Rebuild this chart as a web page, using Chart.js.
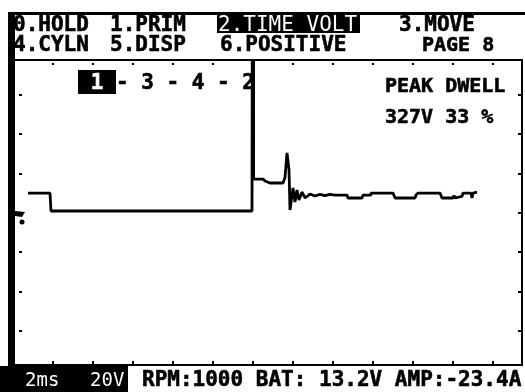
<!DOCTYPE html>
<html>
<head>
<meta charset="utf-8">
<script src="https://cdn.jsdelivr.net/npm/chart.js@4.4.0/dist/chart.umd.min.js"></script>
<style>
  html, body { margin: 0; padding: 0; background: #fff; }
  #scope {
    position: relative; width: 525px; height: 392px; overflow: hidden;
    background: #fff; color: #000;
    font-family: "DejaVu Sans Mono", monospace; font-weight: bold;
  }
  #scope canvas { position: absolute; left: 0; top: 0; }
  .bar { position: absolute; background: #000; }
  .t { position: absolute; white-space: pre; font-size: 21px; line-height: 1; -webkit-text-stroke: 0.6px #000; }
  .inv { background: #000; color: #fff; -webkit-text-stroke: 0.6px #fff; }
  .thin { font-weight: normal; -webkit-text-stroke: 0; }
</style>
</head>
<body>
<div id="scope">
  <!-- screen frame -->
  <div class="bar" style="left:8px;top:12px;width:517px;height:3px"></div>
  <div class="bar" style="left:8px;top:12px;width:7px;height:354px"></div>
  <div class="bar" style="left:15px;top:59px;width:508px;height:2px"></div>
  <div class="bar" style="left:521px;top:61px;width:2px;height:305px"></div>
  <div class="bar" style="left:15px;top:364px;width:508px;height:2px"></div>
  <div class="bar" style="left:0;top:366px;width:128px;height:26px"></div>

  <canvas id="scopeChart" width="525" height="392"></canvas>

  <!-- menu -->
  <div class="t" style="left:13px;top:14px">0.HOLD</div>
  <div class="t" style="left:110px;top:14px">1.PRIM</div>
  <div class="bar" style="left:217px;top:13px;width:143px;height:20px"></div>
  <div class="t thin" style="left:218px;top:14px;color:#fff">2.TIME VOLT</div>
  <div class="t" style="left:399px;top:14px">3.MOVE</div>
  <div class="t" style="left:13px;top:34px">4.CYLN</div>
  <div class="t" style="left:110px;top:34px">5.DISP</div>
  <div class="t" style="left:220px;top:34px">6.POSITIVE</div>
  <div class="t" style="left:422px;top:34px;font-size:20px">PAGE 8</div>

  <!-- firing order, peak / dwell readout -->
  <div class="t" style="left:78px;top:72px"><span class="inv"> 1 </span>- 3 - 4 - 2</div>
  <div class="t" style="left:385px;top:75px;font-size:20px">PEAK DWELL</div>
  <div class="t" style="left:385px;top:106px;font-size:20px">327V 33 %</div>

  <!-- status line -->
  <div class="t thin" style="left:25px;top:370px;font-size:19px;color:#fff">2ms</div>
  <div class="t thin" style="left:90px;top:370px;font-size:19px;color:#fff">20V</div>
  <div class="t" style="left:142px;top:369px">RPM:1000 BAT: 13.2V AMP:-23.4A</div>
</div>

<script>
// primary ignition trace, time in ms, volts (20 V/div, 2 ms/div)
const timeMs = [
  0.75, 1.85, 1.9, 11.95, 12.0, 12.03, 12.5, 12.6, 12.85, 13.5,
  13.6, 13.7, 13.8, 13.85, 14.0, 14.1, 14.2, 14.3, 14.45, 14.6,
  14.85, 15.1, 15.35, 15.6, 15.85, 16.1, 16.7, 16.75, 17.45, 17.5,
  17.85, 17.9, 19.0, 19.1, 20.1, 20.15, 20.25, 21.35, 21.45, 22.0,
  22.05, 22.1, 22.45, 22.5, 22.9, 22.95, 23.0, 23.2
];
const volts = [
  10.1, 10.1, 1.0, 1.0, 327, 17.2, 17.2, 16.2, 15.2, 15.2,
  18.0, 30.4, 22.0, 1.5, 12.7, 5.6, 11.6, 6.6, 10.6, 7.6,
  9.6, 8.6, 9.4, 8.8, 9.4, 9.1, 9.1, 7.6, 7.6, 9.1,
  9.1, 10.1, 10.1, 7.6, 7.6, 9.1, 10.1, 10.1, 7.6, 7.6,
  8.9, 7.6, 8.4, 10.1, 10.1, 7.6, 10.1, 10.6
];

// graticule marks along the screen edge
const timeDivs = [2, 4, 6, 8, 10, 12, 14, 16, 18, 20, 22, 24];
const voltDivs = [-60, -40, -20, 0, 20, 40, 60];

const points = timeMs.map((t, i) => ({ x: t, y: volts[i] }));

const scopeFrame = {
  id: "scopeFrame",
  afterDraw(chart) {
    const { ctx, chartArea: a, scales: { x, y } } = chart;
    ctx.save();
    ctx.fillStyle = "#000";
    timeDivs.forEach(t => {
      const px = Math.round(x.getPixelForValue(t));
      ctx.fillRect(px - 1, a.top + 2, 2, 2);
      ctx.fillRect(px - 1, a.bottom - 3, 2, 3);
    });
    voltDivs.forEach(v => {
      const py = Math.round(y.getPixelForValue(v));
      if (v !== 0) ctx.fillRect(a.left + 4, py - 1, 3, 2);
      ctx.fillRect(a.right - 3, py - 1, 3, 2);
    });
    // ground reference flag
    const g = y.getPixelForValue(0);
    ctx.beginPath();
    ctx.moveTo(a.left, g - 2);
    ctx.lineTo(a.left + 10, g - 1);
    ctx.lineTo(a.left + 7, g + 4);
    ctx.lineTo(a.left, g + 3);
    ctx.closePath();
    ctx.fill();
    ctx.beginPath();
    ctx.arc(a.left + 7, g + 9, 2.5, 0, Math.PI * 2);
    ctx.fill();
    ctx.restore();
  }
};

new Chart(document.getElementById("scopeChart"), {
  type: "line",
  data: {
    datasets: [{
      data: points,
      borderColor: "#000",
      borderWidth: 2.8,
      borderJoinStyle: "bevel",
      pointRadius: 0,
      tension: 0,
      fill: false,
    }],
  },
  options: {
    responsive: false,
    animation: false,
    layout: { padding: { left: 15, top: 61, right: 4, bottom: 28 } },
    plugins: { legend: { display: false }, tooltip: { enabled: false } },
    scales: {
      x: { type: "linear", min: 0.1, max: 25.4, display: false },
      y: { min: -76.5, max: 77, display: false },
    },
  },
  plugins: [scopeFrame],
});
</script>
</body>
</html>
